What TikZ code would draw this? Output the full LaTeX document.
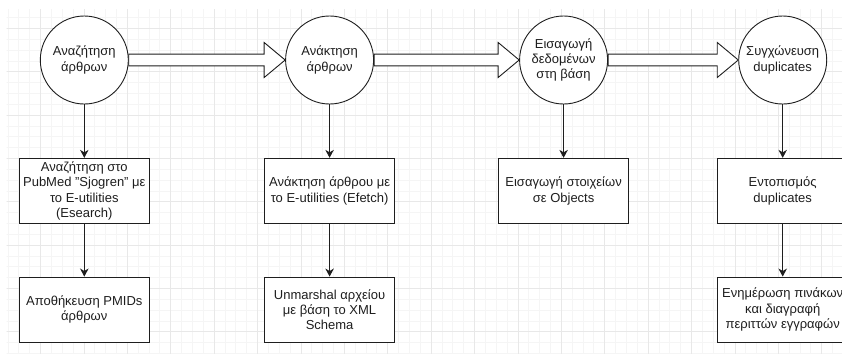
\documentclass[tikz,border=0pt]{standalone}
\usepackage{fontspec}
\setmainfont{Liberation Sans}
\usetikzlibrary{arrows.meta,calc}
\definecolor{gridminor}{HTML}{F5F5F5}
\definecolor{gridmajor}{HTML}{E8E8E8}
\definecolor{ink}{HTML}{1E1E1E}
\newcommand{\blockarrow}[2]{%
  \path[flow] ($(#1.east)+(0,-5.85)$) -- ($(#2.west)+(-21,-5.85)$)
    -- ($(#2.west)+(-21,-17.5)$) -- (#2.west) -- ($(#2.west)+(-21,17.5)$)
    -- ($(#2.west)+(-21,5.85)$) -- ($(#1.east)+(0,5.85)$) -- cycle;}
\begin{document}
\begin{tikzpicture}[x=1pt,y=-1pt,
  txt/.style={font=\fontsize{13}{15.3}\selectfont,text=ink,align=center},
  proc/.style={txt,circle,draw=ink,fill=white,line width=0.9pt,minimum size=88pt,inner sep=0pt},
  task/.style={txt,rectangle,draw=ink,fill=white,line width=0.9pt,minimum width=130pt,minimum height=65pt,inner sep=0pt},
  down/.style={draw=ink,line width=0.9pt,-{Stealth[length=8pt,width=8.5pt,inset=2.5pt]}},
  flow/.style={draw=ink,fill=white,line width=0.9pt,line join=miter}]
\useasboundingbox (0,0) rectangle (842,354);
% background grid
\begin{scope}
  \clip (6.7,9.3) rectangle (842,354);
  \foreach \i in {0,...,78} \draw[gridminor,line width=0.8pt] ({7.95+10.85*\i},0) -- ++(0,354);
  \foreach \j in {0,...,32} \draw[gridminor,line width=0.8pt] (0,{6.84+10.83*\j}) -- ++(842,0);
  \foreach \i in {-1,...,19} \draw[gridmajor,line width=0.8pt] ({40.5+43.4*\i},0) -- ++(0,354);
  \foreach \j in {-1,...,8} \draw[gridmajor,line width=0.8pt] (0,{28.5+43.3*\j}) -- ++(842,0);
\end{scope}
% stages
\node[proc] (c1) at (84.3,60) {Αναζήτηση\\άρθρων};
\node[proc] (c2) at (329.6,60) {Ανάκτηση\\άρθρων};
\node[proc] (c3) at (563.6,60) {Εισαγωγή\\δεδομένων\\στη βάση};
\node[proc] (c4) at (782.7,60) {Συγχώνευση\\duplicates};
% first-level tasks
\node[task] (b1) at (84.3,190.8) {Αναζήτηση στο\\PubMed "Sjogren" με\\το E-utilities\\(Esearch)};
\node[task] (b2) at (329.6,190.8) {Ανάκτηση άρθρου με\\το E-utilities (Efetch)};
\node[task] (b3) at (563.6,190.8) {Εισαγωγή στοιχείων\\σε Objects};
\node[task] (b4) at (782.7,190.8) {Εντοπισμός\\duplicates};
% second-level tasks
\node[task] (d1) at (84.3,309.5) {Αποθήκευση PMIDs\\άρθρων};
\node[task] (d2) at (329.6,309.5) {Unmarshal αρχείου\\με βάση το XML\\Schema};
\node[task] (d4) at (782.7,309.5) {Ενημέρωση πινάκων\\και διαγραφή\\περιττών εγγραφών};
% connectors
\blockarrow{c1}{c2}
\blockarrow{c2}{c3}
\blockarrow{c3}{c4}
\draw[down] (c1) -- (b1);
\draw[down] (c2) -- (b2);
\draw[down] (c3) -- (b3);
\draw[down] (c4) -- (b4);
\draw[down] (b1) -- (d1);
\draw[down] (b2) -- (d2);
\draw[down] (b4) -- (d4);
\end{tikzpicture}
\end{document}
